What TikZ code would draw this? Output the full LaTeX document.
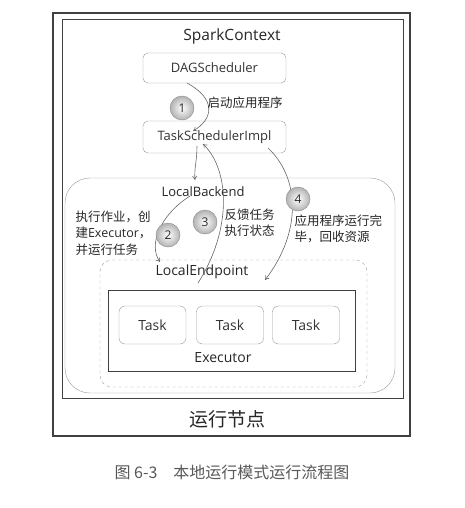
\documentclass[tikz,border=0pt]{standalone}
\usepackage{fontspec}
\setmainfont{Open Sans}
\newfontfamily\cjk{Noto Sans CJK SC}
\usetikzlibrary{arrows.meta}
\begin{document}
\begin{tikzpicture}[x=1pt,y=-1pt,
  frame/.style={draw=black!75,line width=1.1pt,inner sep=0pt},
  module/.style={draw=black!40,rounded corners=5pt,inner sep=0pt,font=\fontsize{13}{15}\selectfont,text=black!80},
  stepnum/.style={circle,draw=black!45,inner color=white,outer color=black!30,inner sep=0pt,minimum size=24pt,font=\fontsize{12}{14}\selectfont,text=black!85},
  note/.style={anchor=west,align=left,font=\fontsize{12.5}{16.5}\selectfont,text=black!85},
  title/.style={font=\fontsize{15.5}{18}\selectfont,text=black!85},
  flow/.style={draw=black!60,line width=0.6pt,-{To[length=4pt,width=5pt]}}]
\useasboundingbox[fill=white] (0,0) rectangle (464,508);
\node[frame,minimum width=357pt,minimum height=423pt] (node) at (231.5,224.5) {};
\node[frame,line width=0.9pt,minimum width=341pt,minimum height=379pt] (sc) at (232.5,208.5) {};
\node[title] (sctext) at (232,36) {SparkContext};
\node[module,minimum width=143pt,minimum height=30pt] (dag) at (214.5,68) {DAGScheduler};
\node[module,minimum width=143pt,minimum height=32pt] (tsi) at (214.5,137) {TaskSchedulerImpl};
\node[module,rounded corners=25pt,minimum width=330pt,minimum height=215pt] (lb) at (230,285.5) {};
\node[title,font=\fontsize{13}{15}\selectfont] (lbtext) at (203,192) {LocalBackend};
\node[module,dashed,rounded corners=12pt,minimum width=267pt,minimum height=127pt] (le) at (233.5,323.5) {};
\node[title,font=\fontsize{14}{16}\selectfont] (letext) at (202,272) {LocalEndpoint};
\node[frame,line width=0.9pt,minimum width=247pt,minimum height=81pt] (exec) at (231.5,330.5) {};
\node[title,font=\fontsize{14}{16}\selectfont] (exectext) at (223,358) {Executor};
\node[module,rounded corners=6pt,minimum width=67pt,minimum height=38pt,font=\fontsize{14}{16}\selectfont] (task1) at (152.5,325) {Task};
\node[module,rounded corners=6pt,minimum width=67pt,minimum height=38pt,font=\fontsize{14}{16}\selectfont] (task2) at (230,325) {Task};
\node[module,rounded corners=6pt,minimum width=67pt,minimum height=38pt,font=\fontsize{14}{16}\selectfont] (task3) at (306,325) {Task};
\node[title,font=\cjk\fontsize{19}{21}\selectfont] (nodetext) at (227,419) {运行节点};
\node[font=\cjk\fontsize{16}{18}\selectfont,text=black!65] (caption) at (232,472) {图 6-3\quad 本地运行模式运行流程图};
% steps
\coordinate (a1s) at (187,83);
\coordinate (a1e) at (193,131);
\coordinate (a1t) at (197,146);
\coordinate (a1u) at (195,180);
\coordinate (a2s) at (190,196);
\coordinate (a2e) at (160,262);
\coordinate (a3s) at (198,283);
\coordinate (a3e) at (203,144);
\coordinate (a4s) at (268,148);
\coordinate (a4e) at (265,280);
\draw[flow] (a1s) .. controls (218,100) and (212,120) .. (a1e);
\draw[flow] (a1t) .. controls (197,160) and (194,170) .. (a1u);
\draw[flow] (a2s) .. controls (160,215) and (148,245) .. (a2e);
\draw[flow] (a3s) .. controls (232,230) and (230,170) .. (a3e);
\draw[flow] (a4s) .. controls (300,178) and (302,232) .. (a4e);
\node[stepnum] (s1) at (182,108) {1};
\node[stepnum] (s2) at (168,235) {2};
\node[stepnum] (s3) at (205,222) {3};
\node[stepnum] (s4) at (298,199) {4};
\node[note] (n1) at (204,103) {\cjk 启动应用程序};
\node[note] (n2) at (72,233) {{\cjk 执行作业，创}\\{\cjk 建}Executor{\cjk ，}\\{\cjk 并运行任务}};
\node[note,font=\cjk\fontsize{12.5}{16.5}\selectfont] (n3) at (221,223) {反馈任务\\执行状态};
\node[note,font=\cjk\fontsize{12.5}{16.5}\selectfont] (n4) at (291,229) {应用程序运行完\\毕，回收资源};
\end{tikzpicture}
\end{document}
